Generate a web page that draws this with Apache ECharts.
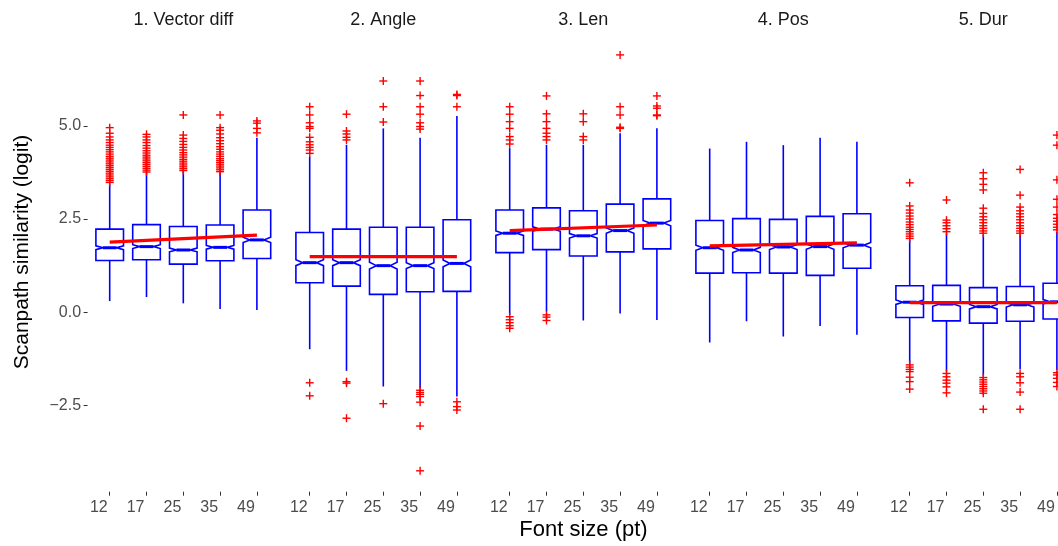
<!DOCTYPE html>
<html>
<head>
<meta charset="utf-8">
<title>Scanpath similarity by font size</title>
<script src="https://cdn.jsdelivr.net/npm/echarts@6/dist/echarts.min.js"></script>
<style>
  html, body { margin: 0; padding: 0; background: #ffffff; overflow: hidden; }
  /* the last facet runs past the right edge of the window */
  #chart { width: 1100px; height: 546px; }
</style>
</head>
<body>
<div id="chart"></div>
<script>
// Font sizes on the x axis of every facet
const fontSizes = ['12', '17', '25', '35', '49'];

// One facet per similarity measure
const facetTitles = ['1. Vector diff', '2. Angle', '3. Len', '4. Pos', '5. Dur'];

// y-axis ticks (logit scale)
const yTickValues = [-2.5, 0, 2.5, 5];

// Box statistics per font size:
// [lower whisker, Q1, median, Q3, upper whisker, notch half-height]
const vectorDiffBoxes = [
  [0.30, 1.39, 1.73, 2.23, 3.43, 0.05],
  [0.41, 1.41, 1.76, 2.35, 3.73, 0.05],
  [0.24, 1.29, 1.67, 2.30, 3.79, 0.05],
  [0.09, 1.38, 1.74, 2.34, 3.74, 0.05],
  [0.06, 1.44, 1.94, 2.74, 4.68, 0.07]
];
const angleBoxes = [
  [-0.99, 0.79, 1.33, 2.14, 4.17, 0.08],
  [-1.57, 0.70, 1.33, 2.23, 4.49, 0.08],
  [-1.99, 0.48, 1.25, 2.28, 4.93, 0.09],
  [-2.04, 0.55, 1.25, 2.28, 4.68, 0.08],
  [-2.26, 0.56, 1.31, 2.48, 5.26, 0.09]
];
const lenBoxes = [
  [-0.07, 1.60, 2.12, 2.74, 4.40, 0.06],
  [0.02, 1.68, 2.23, 2.80, 4.49, 0.06],
  [-0.22, 1.51, 2.05, 2.72, 4.49, 0.06],
  [-0.03, 1.62, 2.19, 2.90, 4.80, 0.07],
  [-0.21, 1.70, 2.39, 3.04, 4.93, 0.07]
];
const posBoxes = [
  [-0.81, 1.05, 1.73, 2.46, 4.39, 0.07],
  [-0.24, 1.06, 1.67, 2.51, 4.57, 0.07],
  [-0.65, 1.05, 1.75, 2.49, 4.48, 0.07],
  [-0.37, 0.99, 1.76, 2.57, 4.68, 0.07],
  [-0.60, 1.18, 1.80, 2.64, 4.57, 0.07]
];
const durBoxes = [
  [-1.37, -0.14, 0.27, 0.71, 1.94, 0.06],
  [-1.59, -0.23, 0.22, 0.72, 2.12, 0.06],
  [-1.70, -0.29, 0.15, 0.66, 2.07, 0.06],
  [-1.53, -0.24, 0.20, 0.69, 2.07, 0.06],
  [-1.55, -0.18, 0.28, 0.78, 2.16, 0.06]
];

// Outlying observations per font size
const vectorDiffOutliers = [
  [3.48, 3.53, 3.58, 3.63, 3.68, 3.73, 3.78, 3.83, 3.88, 3.93, 3.98, 4.03, 4.08, 4.13, 4.18, 4.24, 4.30, 4.36, 4.42, 4.48, 4.55, 4.62, 4.70, 4.80, 4.95],
  [3.76, 3.81, 3.86, 3.91, 3.96, 4.01, 4.06, 4.11, 4.16, 4.21, 4.27, 4.33, 4.40, 4.47, 4.55, 4.62, 4.70, 4.77],
  [3.80, 3.85, 3.90, 3.95, 4.00, 4.05, 4.10, 4.16, 4.22, 4.28, 4.35, 4.42, 4.50, 4.58, 4.66, 4.75, 5.29],
  [3.77, 3.82, 3.87, 3.92, 3.97, 4.02, 4.07, 4.12, 4.18, 4.24, 4.30, 4.37, 4.44, 4.52, 4.60, 4.68, 4.78, 4.88, 4.95, 5.29],
  [4.81, 4.93, 5.07, 5.13]
];
const angleOutliers = [
  [-2.24, -1.89, 4.26, 4.35, 4.42, 4.49, 4.57, 4.69, 4.93, 4.98, 5.08, 5.29, 5.51],
  [-2.84, -1.90, -1.86, 4.62, 4.69, 4.78, 4.86, 5.31],
  [-2.45, 5.10, 5.51, 6.20],
  [-4.25, -3.05, -2.41, -2.26, -2.20, -2.15, -2.09, 4.91, 4.98, 5.08, 5.31, 5.51, 5.81, 6.20],
  [-2.62, -2.53, -2.40, 5.51, 5.81, 5.84]
];
const lenOutliers = [
  [-0.43, -0.36, -0.28, -0.20, -0.12, 4.51, 4.62, 4.71, 4.93, 5.11, 5.31, 5.51],
  [-0.22, -0.13, -0.07, 4.62, 4.71, 4.80, 4.93, 5.11, 5.32, 5.80],
  [4.62, 4.71, 5.11, 5.32],
  [4.93, 4.96, 5.29, 5.51, 6.90],
  [5.27, 5.29, 5.47, 5.53, 5.80]
];
const posOutliers = [[], [], [], [], []];
const durOutliers = [
  [-2.06, -1.86, -1.74, -1.59, -1.53, -1.47, -1.41, 1.98, 2.04, 2.10, 2.16, 2.22, 2.28, 2.35, 2.42, 2.50, 2.58, 2.66, 2.74, 2.85, 3.47],
  [-2.16, -2.00, -1.90, -1.82, -1.73, -1.64, 2.16, 2.24, 2.32, 2.40, 2.47, 3.01],
  [-2.60, -2.17, -2.11, -2.05, -1.99, -1.93, -1.87, -1.81, -1.75, 2.12, 2.18, 2.25, 2.32, 2.40, 2.48, 2.56, 2.65, 2.79, 3.28, 3.43, 3.58, 3.74],
  [-2.60, -2.14, -1.89, -1.73, -1.64, 2.12, 2.18, 2.25, 2.32, 2.40, 2.48, 2.56, 2.64, 2.72, 2.82, 3.14, 3.83],
  [-1.99, -1.88, -1.77, -1.68, -1.62, 2.21, 2.28, 2.36, 2.44, 2.52, 2.62, 2.82, 3.03, 3.55, 4.48, 4.75]
];

// Linear trend across font sizes: value at 12 pt and at 49 pt
const trendStart = [1.88, 1.49, 2.19, 1.78, 0.26];
const trendEnd = [2.07, 1.49, 2.34, 1.86, 0.26];

const facetBoxes = [vectorDiffBoxes, angleBoxes, lenBoxes, posBoxes, durBoxes];
const facetOutliers = [vectorDiffOutliers, angleOutliers, lenOutliers, posOutliers, durOutliers];

const BLUE = '#0000FF';
const RED = '#FF0000';
const FONT = '"Liberation Sans", Arial, Helvetica, sans-serif';

// Panel geometry
const PANEL_STEP = 200;
const GRID_LEFT = 91.3;
const GRID_WIDTH = 184;
const GRID_TOP = 34;
const GRID_HEIGHT = 457.7;
const Y_MIN = -4.81;
const Y_MAX = 7.46;

function fmtTick(v) {
  const s = Math.abs(v).toFixed(1);
  return v < 0 ? '\u2212' + s : s;
}

// Notched box with whiskers and a heavy median bar
function renderBox(params, api) {
  const i = api.value(0);
  const lo = api.value(1), q1 = api.value(2), med = api.value(3),
        q3 = api.value(4), hi = api.value(5), nh = api.value(6);
  const band = api.size([1, 0])[0];
  const hw = band * 0.375;
  const cx = api.coord([i, med])[0];
  const y = v => api.coord([i, v])[1];
  const yQ1 = y(q1), yQ3 = y(q3), yMed = y(med), yLo = y(lo), yHi = y(hi);
  const yNU = y(med + nh), yNL = y(med - nh);
  const stroke = { stroke: BLUE, fill: 'none', lineWidth: 1.6 };
  return {
    type: 'group',
    children: [
      { type: 'line', shape: { x1: cx, y1: yQ3, x2: cx, y2: yHi }, style: stroke },
      { type: 'line', shape: { x1: cx, y1: yQ1, x2: cx, y2: yLo }, style: stroke },
      {
        type: 'polygon',
        shape: {
          points: [
            [cx - hw, yQ3], [cx + hw, yQ3], [cx + hw, yNU], [cx + hw / 2, yMed],
            [cx + hw, yNL], [cx + hw, yQ1], [cx - hw, yQ1], [cx - hw, yNL],
            [cx - hw / 2, yMed], [cx - hw, yNU]
          ]
        },
        style: stroke
      },
      {
        type: 'line',
        shape: { x1: cx - hw / 2, y1: yMed, x2: cx + hw / 2, y2: yMed },
        style: { stroke: BLUE, lineWidth: 3 }
      }
    ]
  };
}

// "+" marker for an outlying point
function renderPlus(params, api) {
  const p = api.coord([api.value(0), api.value(1)]);
  const r = 4;
  const st = { stroke: RED, lineWidth: 1.4 };
  return {
    type: 'group',
    children: [
      { type: 'line', shape: { x1: p[0] - r, y1: p[1], x2: p[0] + r, y2: p[1] }, style: st },
      { type: 'line', shape: { x1: p[0], y1: p[1] - r, x2: p[0], y2: p[1] + r }, style: st }
    ]
  };
}

const grids = [], xAxes = [], yAxes = [], series = [], graphics = [];

facetTitles.forEach((title, k) => {
  grids.push({
    left: GRID_LEFT + PANEL_STEP * k,
    top: GRID_TOP,
    width: GRID_WIDTH,
    height: GRID_HEIGHT,
    containLabel: false
  });
  xAxes.push({
    type: 'category',
    gridIndex: k,
    position: 'bottom',
    data: fontSizes,
    boundaryGap: true,
    axisLine: { show: false, onZero: false },
    axisTick: { show: true, alignWithLabel: true, length: 4, lineStyle: { color: '#333333', width: 1 } },
    axisLabel: {
      color: '#4d4d4d', fontSize: 16, fontFamily: FONT,
      align: 'right', margin: 8, padding: [0, 2, 0, 0]
    },
    splitLine: { show: false }
  });
  yAxes.push({
    type: 'value',
    gridIndex: k,
    min: Y_MIN,
    max: Y_MAX,
    offset: 3.7,
    axisLine: { show: false },
    splitLine: { show: false },
    axisTick: {
      show: k === 0, length: 4, customValues: yTickValues,
      lineStyle: { color: '#333333', width: 1 }
    },
    axisLabel: {
      show: k === 0, customValues: yTickValues, margin: 6.5,
      color: '#4d4d4d', fontSize: 16, fontFamily: FONT,
      formatter: fmtTick
    }
  });

  series.push({
    type: 'custom',
    xAxisIndex: k,
    yAxisIndex: k,
    renderItem: renderBox,
    encode: { x: 0, y: [1, 2, 3, 4, 5] },
    data: facetBoxes[k].map((row, i) => [i, ...row]),
    z: 2,
    silent: true
  });

  const pts = [];
  facetOutliers[k].forEach((vals, i) => vals.forEach(v => pts.push([i, v])));
  series.push({
    type: 'custom',
    xAxisIndex: k,
    yAxisIndex: k,
    renderItem: renderPlus,
    encode: { x: 0, y: 1 },
    data: pts,
    z: 3,
    silent: true
  });

  series.push({
    type: 'line',
    xAxisIndex: k,
    yAxisIndex: k,
    data: [[0, trendStart[k]], [fontSizes.length - 1, trendEnd[k]]],
    symbol: 'none',
    lineStyle: { color: RED, width: 3.2 },
    z: 4,
    silent: true
  });

  graphics.push({
    type: 'text',
    x: GRID_LEFT - 3.7 + PANEL_STEP * k + (GRID_WIDTH + 7.4) / 2,
    y: 20,
    style: {
      text: title, fill: '#1a1a1a', font: '18px ' + FONT,
      textAlign: 'center', textVerticalAlign: 'middle'
    }
  });
});

graphics.push({
  type: 'text',
  x: 583.5,
  y: 530,
  style: {
    text: 'Font size (pt)', fill: '#000000', font: '22px ' + FONT,
    textAlign: 'center', textVerticalAlign: 'middle'
  }
});
graphics.push({
  type: 'text',
  x: 22,
  y: 252,
  rotation: Math.PI / 2,
  style: {
    text: 'Scanpath similarity (logit)', fill: '#000000', font: '21px ' + FONT,
    textAlign: 'center', textVerticalAlign: 'middle'
  }
});

const chart = echarts.init(document.getElementById('chart'), null, { renderer: 'canvas' });
chart.setOption({
  animation: false,
  backgroundColor: '#ffffff',
  grid: grids,
  xAxis: xAxes,
  yAxis: yAxes,
  series: series,
  graphic: graphics
});
</script>
</body>
</html>
